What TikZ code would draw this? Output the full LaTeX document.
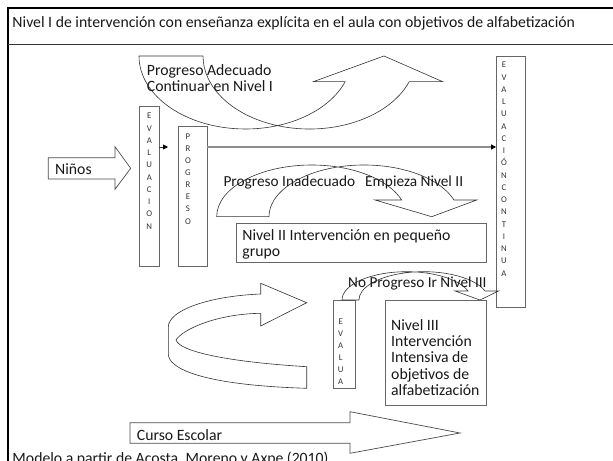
\documentclass[tikz,border=0pt]{standalone}
\usepackage{fontspec}
\setmainfont{Carlito}
\usetikzlibrary{arrows.meta,calc}
\begin{document}
\begin{tikzpicture}[x=1bp,y=-1bp,
  shp/.style={draw=black!80, line width=0.6bp},
  blockarrow/.style={draw=black!70, line width=0.7bp, fill=white},
  box/.style={draw=black!60, line width=0.8bp, fill=white, inner sep=0pt, outer sep=0pt},
  txt/.style={font=\fontsize{15.8}{16.3}\selectfont, inner sep=0pt, align=left, text=black!90},
  vtxt/.style={font=\fontsize{8.8}{12.3}\selectfont, inner sep=0pt, align=center, text=black!80},
  conn/.style={draw=black!45, line width=1.4bp, -{Triangle[length=5bp,width=5bp,color=black]}},
  connsmall/.style={draw=black!80, line width=0.8bp, -{Triangle[length=5bp,width=5bp,color=black]}},
]
\useasboundingbox (0,0) rectangle (613,461);
\fill[white] (0,0) rectangle (613,461);

% frame
\draw[line width=2bp, black] (8,461) -- (8,8) -- (613,8);
\draw[line width=0.8bp, black!80] (8,44.5) -- (613,44.5);
\node[txt, anchor=base west] (hdr) at (12.3,27.5) {Nivel I de intervención con enseñanza explícita en el aula con objetivos de alfabetización};

% Ninos block arrow
\draw[blockarrow] (48.3,157.7) -- (115,157.7) -- (115,146.7) -- (130.7,168.3) -- (115,189.3) -- (115,179) -- (48.3,179) -- cycle;
\node[txt, anchor=base west] (ninos) at (55,175) {Niños};

% vertical boxes
\node[box, minimum width=20bp, minimum height=160.7bp] (eval) at (149.3,186.4) {};
\node[vtxt, anchor=north] (evaltxt) at (149.3,113) {E\\V\\A\\L\\U\\A\\C\\I\\O\\N};

\node[box, minimum width=29bp, minimum height=140bp] (prog) at (192.8,196.7) {};
\node[vtxt, anchor=north, font=\fontsize{8.8}{12.1}\selectfont] (progtxt) at (188,133.8) {P\\R\\O\\G\\R\\E\\S\\O};

\node[box, minimum width=29.3bp, minimum height=251.3bp] (cont) at (510.7,181.7) {};
\node[vtxt, anchor=north] (conttxt) at (504,62.1) {E\\V\\A\\L\\U\\A\\C\\I\\Ó\\N\\C\\O\\N\\T\\I\\N\\U\\A};

\node[box, minimum width=22bp, minimum height=88bp] (evalua) at (344,344) {};
\node[vtxt, anchor=north, font=\fontsize{8.8}{12}\selectfont] (evaluatxt) at (340.7,319.1) {E\\V\\A\\L\\U\\A};

% connectors
\coordinate (a1) at (168,147);
\draw[connsmall] (eval.east |- a1) -- (a1);
\draw[conn] (prog.east |- a1) -- (cont.west |- a1);

% top curved up arrow (Progreso Adecuado)
\draw[shp] (203,56) -- (139,56)
  arc[start angle=180, end angle=20.6, x radius=106.5, y radius=73]
  -- (313.3,81.7) -- (384,56) -- (442.7,81.7) -- (409.2,81.7)
  arc[start angle=20.6, end angle=180, x radius=106.5, y radius=73];
\node[txt, anchor=north west, font=\fontsize{15.8}{15.8}\selectfont] (adec) at (146.7,64.6) {Progreso Adecuado\\Continuar en Nivel I};

% curved down arrow (Progreso Inadecuado)
\draw[shp] (269,216.7) -- (216.7,216.7)
  arc[start angle=180, end angle=341.16, x radius=95, y radius=51.7]
  -- (375,200) -- (431.7,216.7) -- (476.7,200) -- (453.9,200)
  arc[start angle=341.16, end angle=180, x radius=95, y radius=51.7];
\node[txt, anchor=base west, font=\fontsize{15.4}{16}\selectfont] (inad) at (223.3,186.5) {Progreso Inadecuado};
\node[txt, anchor=base west, font=\fontsize{15.4}{16}\selectfont] (emp) at (365,186.5) {Empieza Nivel II};

% Nivel II box
\node[box, minimum width=250.7bp, minimum height=39bp] (niv2) at (361.3,242.5) {};
\node[txt, anchor=north west, font=\fontsize{15.8}{16}\selectfont] (niv2txt) at (242.2,229.6) {Nivel II Intervención en pequeño\\grupo};

% small curved down arrow (No Progreso)
\draw[shp] (359,300) -- (342,300)
  arc[start angle=180, end angle=341.5, x radius=64.7, y radius=28.3]
  -- (455,291) -- (480,300) -- (498.5,291) -- (485,291)
  arc[start angle=341.5, end angle=180, x radius=64.7, y radius=28.3];
\node[txt, anchor=base west, font=\fontsize{15.3}{16}\selectfont] (nopro) at (348,288) {No Progreso Ir Nivel III};

% Nivel III box
\node[box, minimum width=101bp, minimum height=105bp] (niv3) at (435.5,352.5) {};
\node[txt, anchor=north west] (niv3txt) at (391,319.3) {Nivel III\\Intervención\\Intensiva de\\objetivos de\\alfabetización};

% circular arrow bottom left
\draw[shp] (260.7,313.3) -- (260.7,326) -- (306.7,302.7) -- (260.7,283.3) -- (260.7,294)
  .. controls (210,296) and (168.3,310) .. (168.3,327)
  -- (168.3,354)
  .. controls (168.3,368) and (200,385) .. (306.7,388.3)
  -- (306.7,366.7)
  .. controls (230,362) and (180,352) .. (176,340)
  .. controls (182,330) and (215,314) .. (260.7,313.3);

% Curso Escolar block arrow
\draw[blockarrow] (130,422.7) -- (350,422.7) -- (350,411.7) -- (460,433) -- (350,453.3) -- (350,443.3) -- (130,443.3) -- cycle;
\node[txt, anchor=base west] (curso) at (136.7,440) {Curso Escolar};

\node[txt, anchor=base west] (modelo) at (12.3,463) {Modelo a partir de Acosta, Moreno y Axpe (2010)};
\end{tikzpicture}
\end{document}
